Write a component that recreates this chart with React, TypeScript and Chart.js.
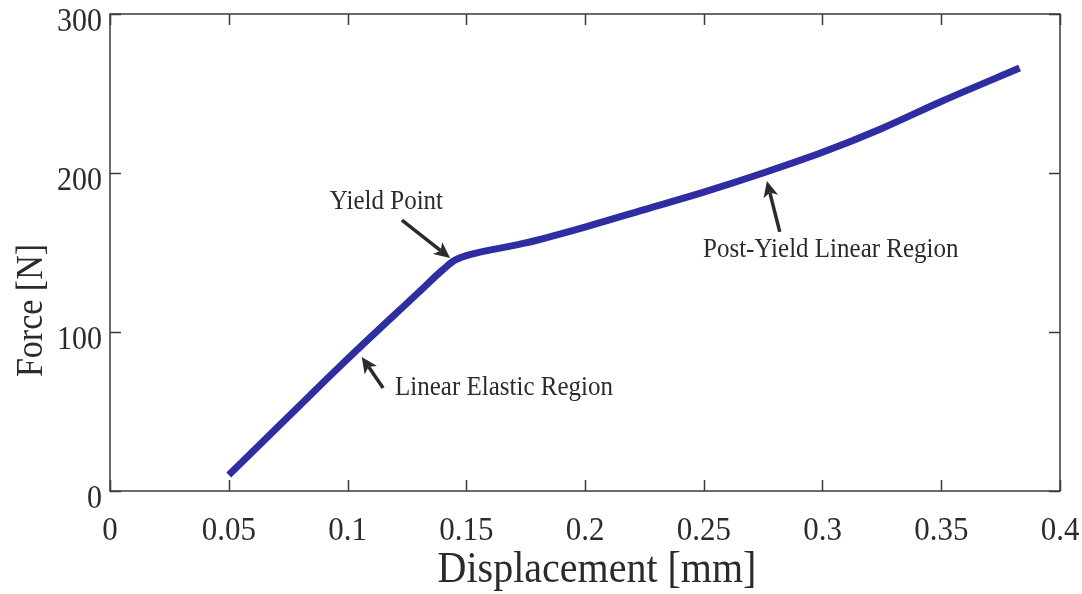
import { useEffect, useRef } from 'react';
import { Chart, registerables } from 'chart.js';

Chart.register(...registerables);

// Force–displacement curve (mm, N)
const displacement = [0.05, 0.08, 0.1, 0.13, 0.14, 0.145, 0.15, 0.175, 0.2, 0.225, 0.25, 0.275, 0.3, 0.325, 0.35, 0.383];
const force = [10, 54, 83, 125, 139, 145, 148, 156, 166, 177, 188, 200, 213, 228, 245, 266];

const xTicks = [0, 0.05, 0.1, 0.15, 0.2, 0.25, 0.3, 0.35, 0.4];
const xTickLabels = ['0', '0.05', '0.1', '0.15', '0.2', '0.25', '0.3', '0.35', '0.4'];
const yTicks = [0, 100, 200, 300];
const yTickLabels = ['0', '100', '200', '300'];

const xTitle = 'Displacement [mm]';
const yTitle = 'Force [N]';

// Callouts: label anchor and arrow (tail -> head), in data units
const calloutTexts = ['Yield Point', 'Linear Elastic Region', 'Post-Yield Linear Region'];
const calloutAnchors = [
  [0.1164, 177.4],
  [0.12, 60.4],
  [0.2497, 147.2],
];
const calloutAligns: CanvasTextAlign[] = ['center', 'left', 'left'];
const arrowTails = [
  [0.1229, 170.4],
  [0.115, 64.8],
  [0.282, 163],
];
const arrowHeads = [
  [0.1432, 146.5],
  [0.106, 84.3],
  [0.2766, 195],
];

const SERIF = '"Liberation Serif", "DejaVu Serif", serif';
const INK = '#2b2b2b';
const STRETCH = 1.1;

function drawText(
  ctx: CanvasRenderingContext2D,
  text: string,
  x: number,
  y: number,
  size: number,
  align: CanvasTextAlign,
  rotate = 0,
) {
  ctx.save();
  ctx.translate(x, y);
  if (rotate) ctx.rotate(rotate);
  ctx.scale(1, STRETCH);
  ctx.font = `${size}px ${SERIF}`;
  ctx.fillStyle = INK;
  ctx.textAlign = align;
  ctx.textBaseline = 'alphabetic';
  ctx.fillText(text, 0, 0);
  ctx.restore();
}

function drawArrow(ctx: CanvasRenderingContext2D, x0: number, y0: number, x1: number, y1: number) {
  const ang = Math.atan2(y1 - y0, x1 - x0);
  const headLen = 16;
  const headHalf = 7.5;
  const bx = x1 - headLen * Math.cos(ang);
  const by = y1 - headLen * Math.sin(ang);
  const nx = bx + 4 * Math.cos(ang);
  const ny = by + 4 * Math.sin(ang);
  ctx.save();
  ctx.strokeStyle = INK;
  ctx.fillStyle = INK;
  ctx.lineWidth = 3.5;
  ctx.beginPath();
  ctx.moveTo(x0, y0);
  ctx.lineTo(nx, ny);
  ctx.stroke();
  ctx.beginPath();
  ctx.moveTo(x1, y1);
  ctx.lineTo(bx - headHalf * Math.sin(ang), by + headHalf * Math.cos(ang));
  ctx.lineTo(nx, ny);
  ctx.lineTo(bx + headHalf * Math.sin(ang), by - headHalf * Math.cos(ang));
  ctx.closePath();
  ctx.fill();
  ctx.restore();
}

const framePlugin = {
  id: 'frameAndLabels',
  afterDraw(chart: Chart) {
    const { ctx, chartArea } = chart;
    const xs = chart.scales.x;
    const ys = chart.scales.y;
    const { left, right, top, bottom } = chartArea;
    const tickLen = 11;

    ctx.save();
    ctx.strokeStyle = '#3a3a3a';
    ctx.lineWidth = 1.5;
    ctx.strokeRect(left, top, right - left, bottom - top);

    ctx.beginPath();
    xTicks.forEach((v) => {
      const px = Math.round(xs.getPixelForValue(v)) + 0.5;
      ctx.moveTo(px, bottom);
      ctx.lineTo(px, bottom - tickLen);
      ctx.moveTo(px, top);
      ctx.lineTo(px, top + tickLen);
    });
    yTicks.forEach((v) => {
      const py = Math.round(ys.getPixelForValue(v)) + 0.5;
      ctx.moveTo(left, py);
      ctx.lineTo(left + tickLen, py);
      ctx.moveTo(right, py);
      ctx.lineTo(right - tickLen, py);
    });
    ctx.stroke();
    ctx.restore();

    xTicks.forEach((v, i) => {
      drawText(ctx, xTickLabels[i], xs.getPixelForValue(v), bottom + 49, 31, 'center');
    });
    yTicks.forEach((v, i) => {
      drawText(ctx, yTickLabels[i], left - 8, ys.getPixelForValue(v) + 17, 30, 'right');
    });

    drawText(ctx, xTitle, (left + right) / 2 + 12, bottom + 91, 40, 'center');
    drawText(ctx, yTitle, 42, (top + bottom) / 2 + 58, 34, 'center', -Math.PI / 2);

    calloutTexts.forEach((t, i) => {
      const [ax, ay] = calloutAnchors[i];
      drawText(ctx, t, xs.getPixelForValue(ax), ys.getPixelForValue(ay), 25, calloutAligns[i]);
      const [tx, ty] = arrowTails[i];
      const [hx, hy] = arrowHeads[i];
      drawArrow(
        ctx,
        xs.getPixelForValue(tx),
        ys.getPixelForValue(ty),
        xs.getPixelForValue(hx),
        ys.getPixelForValue(hy),
      );
    });
  },
};

export default function App() {
  const canvasRef = useRef<HTMLCanvasElement | null>(null);

  useEffect(() => {
    const canvas = canvasRef.current;
    if (!canvas) return;
    const chart = new Chart(canvas, {
      type: 'line',
      data: {
        datasets: [
          {
            label: 'Force',
            data: displacement.map((d, i) => ({ x: d, y: force[i] })),
            borderColor: '#2e2ea2',
            borderWidth: 7,
            borderCapStyle: 'butt',
            borderJoinStyle: 'round',
            pointRadius: 0,
            cubicInterpolationMode: 'monotone',
            fill: false,
          },
        ],
      },
      options: {
        animation: false,
        responsive: false,
        events: [],
        layout: { autoPadding: false, padding: { left: 0, top: 14, right: 22, bottom: 0 } },
        plugins: { legend: { display: false }, tooltip: { enabled: false } },
        scales: {
          x: {
            type: 'linear',
            min: 0,
            max: 0.4,
            grid: { display: false },
            border: { display: false },
            ticks: { display: false },
            afterFit: (s: any) => {
              s.height = 103;
            },
          },
          y: {
            type: 'linear',
            min: 0,
            max: 300,
            grid: { display: false },
            border: { display: false },
            ticks: { display: false },
            afterFit: (s: any) => {
              s.width = 110;
            },
          },
        },
      },
      plugins: [framePlugin],
    });
    return () => chart.destroy();
  }, []);

  return (
    <div style={{ position: 'fixed', left: 0, top: 0, width: 1082, height: 594, background: '#ffffff' }}>
      <canvas ref={canvasRef} width={1082} height={594} style={{ display: 'block' }} />
    </div>
  );
}
